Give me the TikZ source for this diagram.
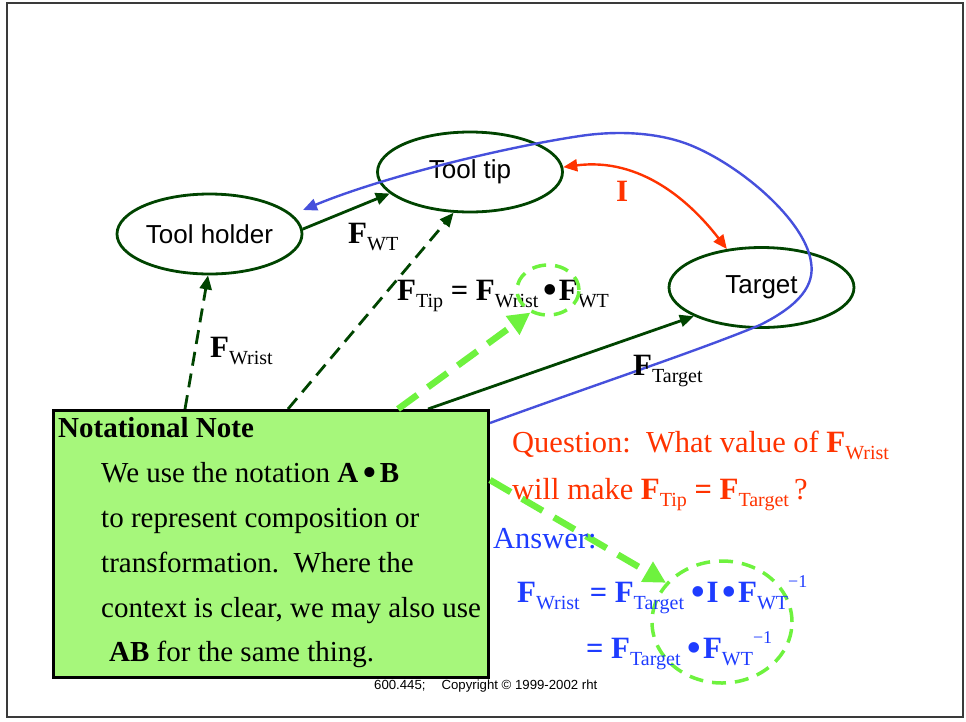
\documentclass[tikz,border=0pt]{standalone}
\usepackage{fontspec}
\setmainfont{Liberation Serif}
\newfontfamily\arialf{Liberation Sans}
\usetikzlibrary{arrows.meta,shapes.geometric,calc}
\definecolor{dkgreen}{HTML}{004400}
\definecolor{ltgreen}{HTML}{6EF23E}
\definecolor{boxgreen}{HTML}{A6F77B}
\definecolor{curveblue}{HTML}{4650DC}
\definecolor{txtblue}{HTML}{1E3CFF}
\definecolor{myred}{HTML}{FF3300}
\definecolor{framec}{HTML}{3A3A3A}
\newcommand{\Fs}[1]{{\fontsize{31}{31}\selectfont\bfseries F}\raisebox{-7pt}{\fontsize{20}{20}\selectfont #1}}
\newcommand{\Sup}{\raisebox{15pt}{\fontsize{18}{18}\selectfont −1}}
\newcommand{\Bul}{\raisebox{-4.5pt}{\scalebox{1.45}{\textbullet}}}
\newcommand{\Eq}{\textbf{=}}
\begin{document}
\begin{tikzpicture}[x=1pt,y=-1pt,
  state/.style={ellipse, draw=dkgreen, line width=2.8pt, minimum width=185pt, minimum height=80pt, inner sep=0pt, font=\arialf\fontsize{26}{28}\selectfont},
  notebox/.style={draw=black, line width=3pt, fill=boxgreen, minimum width=435pt, minimum height=267pt, inner sep=0pt, anchor=north west},
  txt/.style={anchor=base west, inner sep=0pt, font=\fontsize{29}{32}\selectfont},
  eqtxt/.style={anchor=base west, inner sep=0pt, font=\fontsize{30.5}{32}\selectfont},
  solidarr/.style={draw=dkgreen, line width=2.8pt, -{Triangle[length=14pt,width=12pt]}, fill=dkgreen},
  dasharr/.style={draw=dkgreen, line width=2.8pt, dash pattern=on 14pt off 8pt, -{Triangle[length=14pt,width=12pt]}},
  greenarr/.style={draw=ltgreen, line width=6.5pt, dash pattern=on 24pt off 13pt, -{Triangle[length=22pt,width=22pt]}},
  greenring/.style={ellipse, draw=ltgreen, line width=3.5pt, dash pattern=on 14pt off 9pt, inner sep=0pt},
  bluearr/.style={draw=curveblue, line width=2.4pt, -{Triangle[length=14pt,width=12pt]}},
  redarr/.style={draw=myred, line width=2.4pt, {Triangle[length=14pt,width=12pt]}-{Triangle[length=14pt,width=12pt]}}
]
\useasboundingbox (0,0) rectangle (966,721);
\draw[framec, line width=2pt] (7,3) rectangle (963,717);

% states
\node[state] (holder) at (209.5,234) {Tool holder};
\node[state] (tip) at (470,172) {Tool tip};
\node[state] (target) at (761.5,287.5) {Target};

% note box (reference for connectors)
\path (52,409) node[notebox, draw=none, fill=none] (box) {};

% connectors
\draw[solidarr] (holder.3) -- (tip.195);
\draw[dasharr] ([xshift=133pt]box.north west) -- (holder.268);
\draw[dasharr] ([xshift=236pt]box.north west) -- (tip.248);
\draw[solidarr] ([xshift=376pt]box.north west) -- (target.203);
\draw[redarr] (tip.3) .. controls +(77,-10) and +(-37,-48) .. (target.132);
\coordinate (bend) at (303,210);
\draw[bluearr] ([yshift=-14pt]box.north east) .. controls (600,383) and (700,350) .. (760,325)
  .. controls (800,305) and (815,285) .. (811,262)
  .. controls (805,220) and (740,165) .. (690,145)
  .. controls (660,133) and (620,130) .. (580,136)
  .. controls (500,148) and (380,178) .. (bend);

% labels
\node[eqtxt] (lwt) at (348,243) {\Fs{WT}};
\node[eqtxt] (lwr) at (210,357) {\Fs{Wrist}};
\node[eqtxt] (ltg) at (633,375) {\Fs{Target}};
\node[eqtxt, text=myred] (li) at (616,201) {\fontsize{31}{31}\selectfont\bfseries I};
\node[eqtxt] (eq1) at (397,300) {\Fs{Tip} \Eq{} \Fs{Wrist}\hspace{4pt}\Bul\hspace{1pt}\Fs{WT}};

% green rings
\node[greenring, minimum width=62pt, minimum height=50pt] (c1) at (548,290) {};
\node[greenring, minimum width=140pt, minimum height=122pt] (c2) at (722,622) {};

% note box drawn
\node[notebox] (boxd) at (52,409) {};
\node[txt] (nn) at (58,437) {\textbf{Notational Note}};
\node[txt] (l1) at (101,482) {We use the notation \textbf{A}\hspace{4pt}\Bul\hspace{3pt}\textbf{B}};
\node[txt] (l2) at (101,527) {to represent composition or};
\node[txt] (l3) at (101,572) {transformation.\ \ Where the};
\node[txt] (l4) at (101,617) {context is clear, we may also use};
\node[txt] (l5) at (109,661) {\textbf{AB} for the same thing.};

% green arrows
\draw[greenarr] ([xshift=346pt]box.north west) -- (c1.232);
\draw[greenarr] ([yshift=-71pt]box.north east) -- (c2.145);

% question / answer
\node[eqtxt, text=myred] (q1) at (512,452) {Question:\ \ What value of \Fs{Wrist}};
\node[eqtxt, text=myred] (q2) at (512,499) {will make \Fs{Tip} \Eq{} \Fs{Target}\,?};
\node[eqtxt, text=txtblue] (ans) at (493,548) {Answer:};
\node[eqtxt, text=txtblue] (a1) at (517,602) {\Fs{Wrist}\hspace{10pt}\Eq{} \Fs{Target}\hspace{6pt}\Bul\hspace{1pt}{\fontsize{31}{31}\selectfont\bfseries I}\hspace{3pt}\Bul\hspace{1pt}\Fs{WT}\Sup};
\node[eqtxt, text=txtblue] (a2) at (586,658) {\Eq{} \Fs{Target}\hspace{6pt}\Bul\hspace{1pt}\Fs{WT}\Sup};

% footer
\node[anchor=base west, inner sep=0pt, font=\arialf\fontsize{13.2}{15}\selectfont] (copy) at (374,689) {600.445;\hspace{16pt}Copyright © 1999-2002 rht};
\end{tikzpicture}
\end{document}
